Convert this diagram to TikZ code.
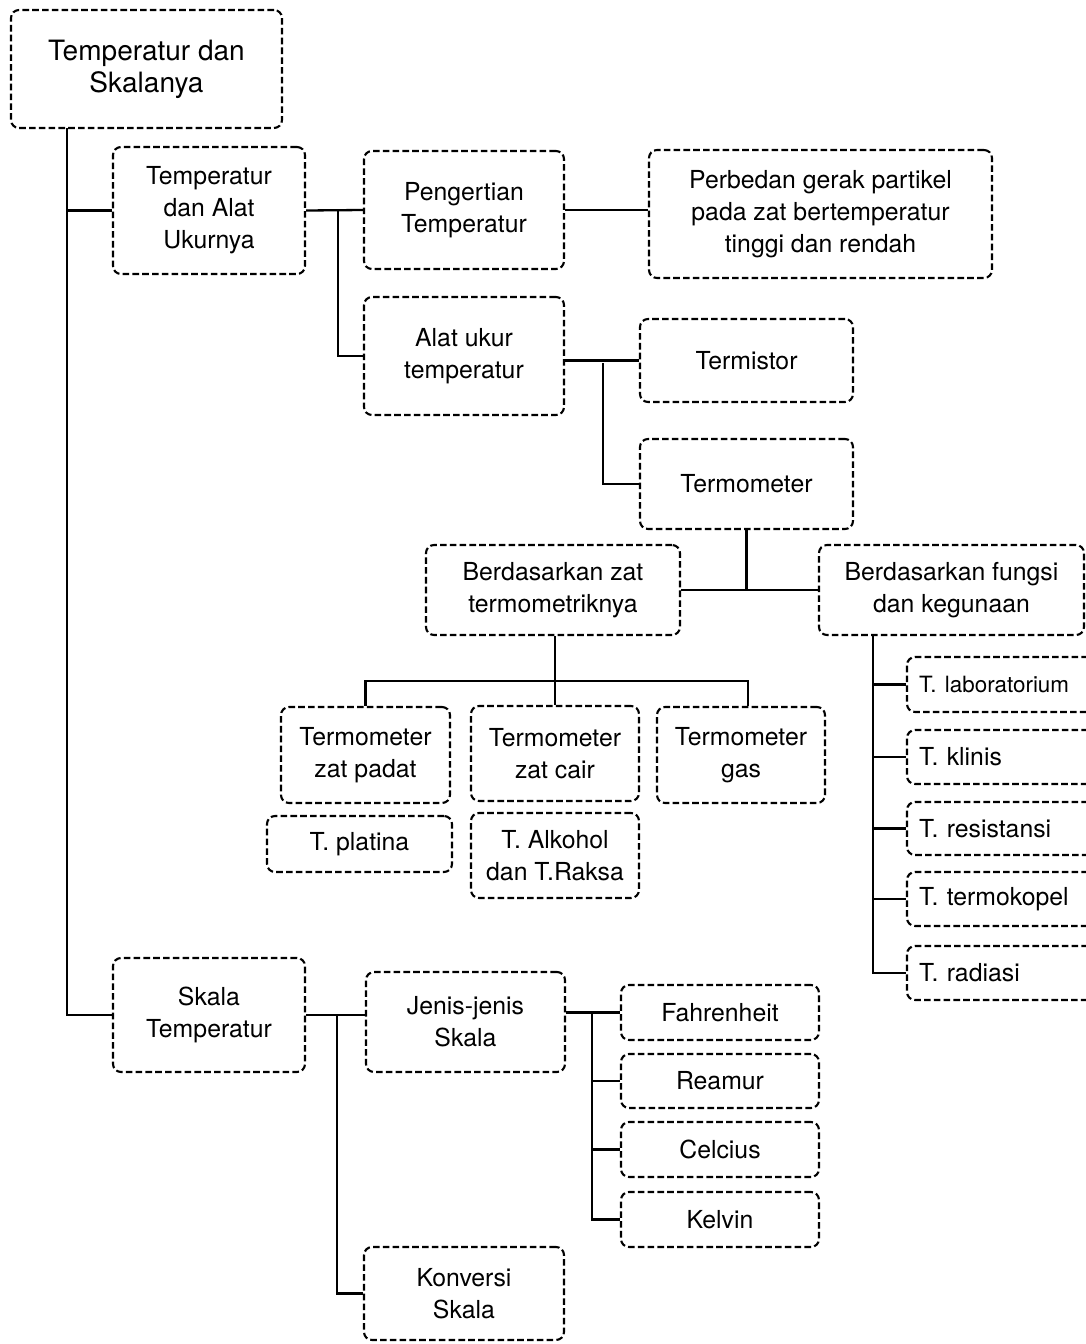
\documentclass[tikz,border=0pt]{standalone}
\usepackage{fontspec}
\setmainfont{TeX Gyre Heros}
\begin{document}
\begin{tikzpicture}[x=0.5pt,y=-0.5pt,
  box/.style={draw,dash pattern=on 3.3pt off 1.6pt,line width=1.05pt,rounded corners=4pt,
    align=center,inner sep=0pt,font=\fontsize{12.4}{16}\selectfont},
  lbox/.style={box,align=left,inner xsep=6pt},
  link/.style={line width=1.15pt}]
% box from corner (x1,y1) to (x2,y2), in pixel units
\newcommand\bx[7][box]{%
  \pgfmathsetmacro\bw{(#5-#3)*0.5}%
  \pgfmathsetmacro\bh{(#6-#4)*0.5}%
  \node[#1,minimum width=\bw pt,minimum height=\bh pt] (#2) at ({(#3+#5)/2},{(#4+#6)/2}) {#7};}
% left-aligned box
\newcommand\bxl[6]{%
  \pgfmathsetmacro\bw{(#4-#2)*0.5}%
  \pgfmathsetmacro\bh{(#5-#3)*0.5}%
  \pgfmathsetmacro\tw{(#4-#2)*0.5-12}%
  \node[lbox,minimum width=\bw pt,minimum height=\bh pt,text width=\tw pt] (#1) at ({(#2+#4)/2},{(#3+#5)/2}) {#6};}
\useasboundingbox (0,0) rectangle (1086,1344);
\clip (0,0) rectangle (1086,1344);

% boxes
\bx[box,font=\fontsize{14}{16}\selectfont]{root}{11}{10}{282}{128}{Temperatur dan\\Skalanya}
\bx{alat}{113}{147}{305}{274}{Temperatur\\dan Alat\\Ukurnya}
\bx{peng}{364}{151}{564}{269}{Pengertian\\Temperatur}
\bx{perb}{649}{150}{992}{278}{Perbedan gerak partikel\\pada zat bertemperatur\\tinggi dan rendah}
\bx{ukur}{364}{297}{564}{415}{Alat ukur\\temperatur}
\bx{mist}{640}{319}{853}{402}{Termistor}
\bx{term}{640}{439}{853}{529}{Termometer}
\bx{zat}{426}{545}{680}{635}{Berdasarkan zat\\termometriknya}
\bx{fung}{819}{545}{1084}{635}{Berdasarkan fungsi\\dan kegunaan}
\bx{padat}{281}{707}{450}{803}{Termometer\\zat padat}
\bx{cair}{471}{706}{639}{801}{Termometer\\zat cair}
\bx{gas}{657}{707}{825}{803}{Termometer\\gas}
\bx{plat}{267}{816}{452}{872}{T. platina}
\bx{alko}{471}{813}{639}{898}{T. Alkohol\\dan T.Raksa}
\bxl{tlab}{907}{657}{1096}{712}{\fontsize{11.2}{13}\selectfont T. laboratorium}
\bxl{tkli}{907}{730}{1096}{784}{T. klinis}
\bxl{tres}{907}{802}{1096}{855}{T. resistansi}
\bxl{tter}{907}{872}{1096}{926}{T. termokopel}
\bxl{trad}{907}{946}{1096}{1000}{T. radiasi}
\bx{skala}{113}{958}{305}{1072}{Skala\\Temperatur}
\bx{jenis}{366}{972}{565}{1072}{Jenis-jenis\\Skala}
\bx{fahr}{621}{985}{819}{1040}{Fahrenheit}
\bx{ream}{621}{1054}{819}{1108}{Reamur}
\bx{celc}{621}{1122}{819}{1177}{Celcius}
\bx{kelv}{621}{1192}{819}{1247}{Kelvin}
\bx{konv}{364}{1247}{564}{1340}{Konversi\\Skala}

% junction points
\coordinate (trunk) at (67,128);
\coordinate (j1) at (338,210);
\coordinate (j2) at (603,363);
\coordinate (j3) at (748,681);
\coordinate (j4) at (873,635);
\coordinate (j5) at (337,1015);
\coordinate (j6) at (592,1012);

% connectors
\draw[link] (trunk) |- (skala.west);
\draw[link] (alat.west) -- (alat.west -| trunk);
\draw[link] (alat.east) -- (peng.west);
\draw[link] (j1) |- (ukur.west);
\draw[link] (peng.east) -- (peng.east -| perb.west);
\draw[link] (mist.west) -- (mist.west -| ukur.east);
\draw[link] (j2) |- (term.west);
\draw[link] (zat.east) -- (fung.west);
\draw[link] (term.south) -- (term.south |- zat.east);
\draw[link] (zat.south -| cair.north) -- (cair.north);
\draw[link] (padat.north) |- (j3) -- (j3 |- gas.north);
\draw[link] (j4) |- (trad.west);
\draw[link] (tlab.west) -- (tlab.west -| j4);
\draw[link] (tkli.west) -- (tkli.west -| j4);
\draw[link] (tres.west) -- (tres.west -| j4);
\draw[link] (tter.west) -- (tter.west -| j4);
\draw[link] (skala.east) -- (skala.east -| jenis.west);
\draw[link] (j5) |- (konv.west);
\draw[link] (fahr.west) -- (fahr.west -| jenis.east);
\draw[link] (j6) |- (kelv.west);
\draw[link] (ream.west) -- (ream.west -| j6);
\draw[link] (celc.west) -- (celc.west -| j6);
\end{tikzpicture}
\end{document}
